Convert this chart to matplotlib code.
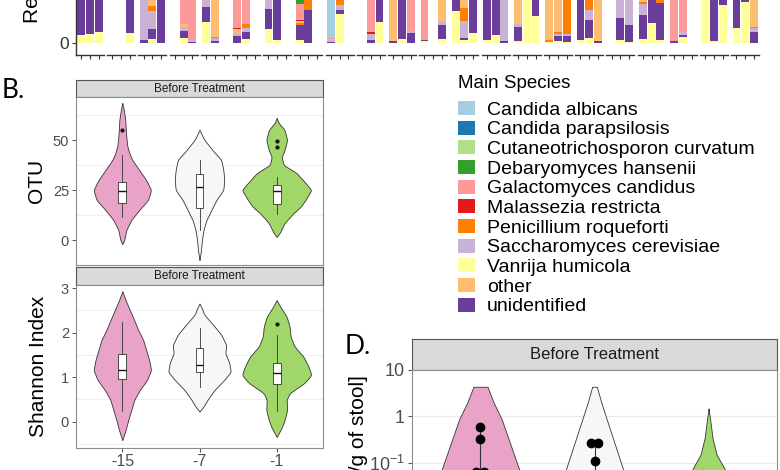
import numpy as np
import matplotlib.pyplot as plt
from matplotlib.patches import Patch

W, H = 780, 470
plt.rcParams['font.family'] = ['Liberation Sans', 'DejaVu Sans']
plt.rcParams['mathtext.fontset'] = 'custom'
plt.rcParams['mathtext.rm'] = 'Liberation Sans'

# ---- data: relative abundance, 22 patients x 3 time points (visible part only) ----
vanrija = [
    .08, .09, .11, 0, 0, .10, 0, .04, 0, 0, .05, 0, .21, 0, 0, 0, .04, 0,
    .14, .03, 0, .03, 0, 0, 0, .29, 0, 0, 0, .21, 0, .04, 0, .02, 0, .04,
    .32, .03, .10, .03, .08, 0, .02, 1.0, .27, .01, .02, .01, .03, .05, 0,
    0, .03, .01, .04, .20, .03, 0, .06, 0, 1.0, .02, .38, .15, .41, 0]
unidentified = [
    .92, .91, .89, 0, 0, .90, .03, .10, 1.0, 0, .07, .01, .15, .02, 0, .07, .07, 0,
    .20, .97, 0, .15, .33, 0, .01, .04, 0, 0, .03, .79, .02, .96, .10, .01, 0, .14,
    .68, .02, .90, .97, .92, .02, .14, 0, .73, 0, .05, .06, .97, .18, .02,
    0, .22, .17, .24, .80, .37, .02, .02, 0, 0, .98, .62, .85, .59, .11]
saccharomyces = [
    0, 0, 0, 0, 0, 0, .97, .18, 0, 0, .04, .02, .64, .03, 0, .03, .04, 0,
    .66, 0, 0, 0, 0, 0, .02, .05, 0, 0, .06, 0, 0, 0, .02, 0, 0, .03,
    0, .17, 0, 0, 0, .98, .03, 0, 0, 0, .02, .02, 0, .10, 0,
    0, .75, .82, .11, 0, 0, 0, .03, 0, 0, 0, 0, 0, 0, .04]
penicillium = [
    0, 0, 0, 0, 0, 0, 0, .05, 0, 0, 0, 0, 0, .01, 0, 0, .04, 0,
    0, 0, 0, .02, .67, 0, 0, .62, 0, 0, 0, 0, 0, 0, 0, 0, 0, 0,
    0, .13, 0, 0, 0, 0, 0, 0, 0, .02, .02, .91, 0, .67, 0,
    0, 0, 0, .02, 0, .60, 0, 0, 0, 0, 0, 0, 0, 0, .01]
other = [
    0, 0, 0, 0, 0, 0, 0, .63, 0, 0, .03, 0, 0, .94, 0, .04, 0, 0,
    0, 0, 0, .02, 0, 0, .01, 0, 0, 0, 0, 0, .98, 0, 0, 0, 0, .79,
    0, .65, 0, 0, 0, 0, .81, 0, 0, .97, .89, 0, 0, 0, .98,
    0, 0, 0, .59, 0, 0, 0, 0, 0, 0, 0, 0, 0, 0, .84]
malassezia = [
    0, 0, 0, 0, 0, 0, 0, 0, 0, 0, 0, 0, 0, 0, 0, .01, 0, 0,
    0, 0, 0, .01, 0, 0, 0, 0, 0, 0, .02, 0, 0, 0, 0, 0, 0, 0,
    0, 0, 0, 0, 0, 0, 0, 0, 0, 0, 0, 0, 0, 0, 0,
    0, 0, 0, 0, 0, 0, 0, 0, 0, 0, 0, 0, 0, 0, 0]
galactomyces = [
    0, 0, 0, 0, 0, 0, 0, 0, 0, 0, .81, .97, 0, 0, 0, .85, .81, 0,
    0, 0, 0, .16, 0, 0, .01, 0, 0, 0, .89, 0, 0, 0, .88, .97, 0, 0,
    0, 0, 0, 0, 0, 0, 0, 0, 0, 0, 0, 0, 0, 0, 0,
    0, 0, 0, 0, 0, 0, .98, .89, 0, 0, 0, 0, 0, 0, 0]
debaryomyces = [
    0, 0, 0, 0, 0, 0, 0, 0, 0, 0, 0, 0, 0, 0, 0, 0, 0, 0,
    0, 0, 0, .61, 0, 0, 0, 0, 0, 0, 0, 0, 0, 0, 0, 0, 0, 0,
    0, 0, 0, 0, 0, 0, 0, 0, 0, 0, 0, 0, 0, 0, 0,
    0, 0, 0, 0, 0, 0, 0, 0, 0, 0, 0, 0, 0, 0, 0]
c_albicans = [
    0, 0, 0, 0, 0, 0, 0, 0, 0, 0, 0, 0, 0, 0, 0, 0, 0, 0,
    0, 0, 0, 0, 0, 0, .95, 0, 0, 0, 0, 0, 0, 0, 0, 0, 0, 0,
    0, 0, 0, 0, 0, 0, 0, 0, 0, 0, 0, 0, 0, 0, 0,
    0, 0, 0, 0, 0, 0, 0, 0, 0, 0, 0, 0, 0, 0, 0]
zeros = [0] * 66

species = ["Candida albicans", "Candida parapsilosis", "Cutaneotrichosporon curvatum",
           "Debaryomyces hansenii", "Galactomyces candidus", "Malassezia restricta",
           "Penicillium roqueforti", "Saccharomyces cerevisiae", "Vanrija humicola",
           "other", "unidentified"]
colors = ["#A6CEE3", "#1F78B4", "#B2DF8A", "#33A02C", "#FB9A99", "#E31A1C",
          "#FF7F00", "#CAB2D6", "#FFFF99", "#FDBF6F", "#6A3D9A"]
abund = {"Candida albicans": c_albicans, "Candida parapsilosis": zeros,
         "Cutaneotrichosporon curvatum": zeros, "Debaryomyces hansenii": debaryomyces,
         "Galactomyces candidus": galactomyces, "Malassezia restricta": malassezia,
         "Penicillium roqueforti": penicillium, "Saccharomyces cerevisiae": saccharomyces,
         "Vanrija humicola": vanrija, "other": other, "unidentified": unidentified}
# bottom -> top
stack_order = ["Vanrija humicola", "unidentified", "Saccharomyces cerevisiae",
               "Penicillium roqueforti", "other", "Malassezia restricta",
               "Galactomyces candidus", "Debaryomyces hansenii",
               "Cutaneotrichosporon curvatum", "Candida parapsilosis", "Candida albicans"]
n_patients = 22

# ---- panel B: violin outlines (y, density) and box stats ----
days = ["-15", "-7", "-1"]
fills = ["#E9A3C9", "#F7F7F7", "#A1D76A"]

otu_y = [[-2, 0, 5, 10, 15, 20, 25, 30, 35, 40, 43.5, 47, 51.5, 55, 60, 65, 68.5],
         [-10, -5, 0, 5, 10, 15, 20, 25, 30, 35, 40, 45, 50, 55],
         [1.5, 3.5, 8.5, 13.5, 16.5, 20, 25, 28.5, 33.5, 37.5, 41.5, 45, 50, 55, 58.5, 61]]
otu_d = [[0, 2, 4, 9, 17, 26, 29, 24, 17, 10, 7, 5, 4, 3.5, 3, 1.5, 0],
         [0, 1.5, 2.5, 4, 7, 12, 17, 24, 25, 24, 22, 13, 5, 0],
         [0, 3, 8, 17, 24, 29, 35, 29, 20, 7, 5, 8, 10.5, 8, 2, 0]]
otu_box = [dict(whislo=11.7, q1=18.5, med=24.5, q3=29, whishi=42.5, fliers=[55]),
           dict(whislo=5, q1=16, med=26.5, q3=33, whishi=40, fliers=[]),
           dict(whislo=13, q1=18, med=24.5, q3=27.5, whishi=31.5, fliers=[46.5, 49.5])]

sh_y = [[-0.41, -0.19, 0.04, 0.26, 0.49, 0.71, 0.94, 1.16, 1.39, 1.61, 1.84, 2.06, 2.28, 2.51, 2.73, 2.93],
        [0.23, 0.34, 0.49, 0.71, 0.94, 1.12, 1.32, 1.54, 1.72, 1.95, 2.17, 2.40, 2.59, 2.65],
        [-0.34, -0.14, 0.04, 0.26, 0.49, 0.64, 0.87, 1.05, 1.24, 1.46, 1.69, 1.91, 2.14, 2.36, 2.55, 2.73]]
sh_d = [[0, 3.3, 6, 9, 12, 17.5, 25, 29, 27, 24, 21, 16, 12, 7.5, 3.3, 0],
        [0, 4, 8, 15, 25, 31.5, 30, 26, 27, 22, 14, 5, 1.5, 0],
        [0, 5, 8, 10.5, 10, 13, 28, 35, 32, 27, 18, 14, 13, 10, 4.5, 0]]
sh_box = [dict(whislo=0.23, q1=0.96, med=1.16, q3=1.52, whishi=2.25, fliers=[]),
          dict(whislo=0.78, q1=1.12, med=1.27, q3=1.65, whishi=2.1, fliers=[]),
          dict(whislo=0.23, q1=0.85, med=1.09, q3=1.32, whishi=1.95, fliers=[2.2])]

# ---- panel D: fungal load (log10 outline) and points ----
load_logy = [[-1.4, -1.12, -0.057, 0.30, 0.638],
             [-1.4, -1.12, -0.057, 0.30, 0.638],
             [-1.4, -1.12, -0.83, -0.48, -0.057, 0.17]]
load_d = [[43, 38, 21, 13, 7],
          [32, 28, 12, 6.7, 2.3],
          [22, 15.5, 8, 4, 1.5, 0]]
load_pts = [[0.583, 0.329, 0.064, 0.064, 0.02],
            [0.27, 0.27, 0.109, 0.03],
            []]

fig = plt.figure(figsize=(7.8, 4.7), dpi=100)


def box(x0, y0, x1, y1):
    return fig.add_axes([x0 / W, 1 - y1 / H, (x1 - x0) / W, (y1 - y0) / H])


def strip(x0, y0, x1, y1, size):
    s = box(x0, y0, x1, y1)
    s.set_facecolor("#D9D9D9")
    s.set_xticks([]); s.set_yticks([])
    for sp in s.spines.values():
        sp.set_color("#555555"); sp.set_linewidth(0.8)
    s.text(0.5, 0.5, "Before Treatment", ha="center", va="center",
           fontsize=size, color="#1A1A1A", transform=s.transAxes)


def smooth(v, k=9):
    ker = np.ones(k) / k
    pad = np.pad(v, k // 2, mode="edge")
    return np.convolve(pad, ker, mode="valid")


def violin(ax, xc, ys, ds, scale, color, log=False, sm=True):
    yy = np.linspace(ys[0], ys[-1], 300)
    ww = np.interp(yy, ys, ds)
    if sm:
        ww = smooth(ww)
        ww[0] = ds[0]; ww[-1] = ds[-1]
    ww = ww * scale
    if log:
        yy = 10 ** yy
    ax.fill_betweenx(yy, xc - ww, xc + ww, facecolor=color,
                     edgecolor="#333333", linewidth=0.6, zorder=2)


def panel_frame(ax):
    for sp in ax.spines.values():
        sp.set_color("#8C8C8C"); sp.set_linewidth(0.8)
    ax.tick_params(axis="both", colors="#333333", labelcolor="#4D4D4D",
                   length=3, width=0.6, pad=2)


# ---- top strip: stacked bars per patient ----
for p in range(n_patients):
    x0 = 76 + 31.2 * p
    ax = box(x0, -62, x0 + 28, 55)
    idx = slice(3 * p, 3 * p + 3)
    bottom = np.zeros(3)
    for name in stack_order:
        vals = np.array(abund[name][idx], dtype=float)
        ax.bar([1, 2, 3], vals, bottom=bottom, width=0.9,
               color=colors[species.index(name)], linewidth=0)
        bottom += vals
    ax.set_xlim(0.4, 3.6)
    ax.set_ylim(-0.12, 1.05)
    ax.set_xticks([1, 2, 3])
    ax.tick_params(axis="x", length=3, width=0.8, color="#333333", labelbottom=False)
    for s in ["top", "right"]:
        ax.spines[s].set_visible(False)
    ax.spines["bottom"].set_color("#333333")
    ax.spines["bottom"].set_linewidth(1.0)
    if p == 0:
        ax.set_yticks([0])
        ax.tick_params(axis="y", length=3, width=0.8, color="#333333",
                       labelsize=12.5, labelcolor="#333333", pad=2)
        ax.spines["left"].set_color("#333333")
        ax.spines["left"].set_linewidth(1.0)
    else:
        ax.spines["left"].set_visible(False)
        ax.set_yticks([])

fig.text(33 / W, 1 - 23 / H, "Relative abundance", rotation=90, ha="center",
         va="bottom", fontsize=15)

# ---- panel B ----
fig.text(2 / W, 1 - 91 / H, "B.", fontsize=19, family="Lato", va="center")
xs = [1, 2, 3]
scaleB = 0.45 / 35
box_kw = dict(positions=xs, widths=0.1, patch_artist=True, showcaps=False,
              boxprops=dict(facecolor="white", edgecolor="#333333", linewidth=0.6),
              whiskerprops=dict(color="#333333", linewidth=0.6),
              medianprops=dict(color="#111111", linewidth=1.0),
              flierprops=dict(marker="o", markersize=2, markerfacecolor="#111111",
                              markeredgecolor="#111111"), zorder=3)

strip(76, 80, 323, 97, 8.5)
axo = box(76, 97, 323, 265)
for i in range(3):
    violin(axo, xs[i], otu_y[i], otu_d[i], scaleB, fills[i])
axo.bxp(otu_box, **box_kw)
axo.set_xlim(0.4, 3.6)
axo.set_ylim(-12.5, 71.5)
axo.set_yticks([0, 25, 50])
axo.set_yticks([12.5, 37.5, 62.5], minor=True)
axo.grid(which="minor", axis="y", color="#EBEBEB", linewidth=0.6)
axo.set_xticks([])
panel_frame(axo)
axo.tick_params(axis="y", which="minor", length=0)
axo.tick_params(axis="y", labelsize=10.5)
axo.set_ylabel("OTU", fontsize=15, labelpad=5)

strip(76, 267, 323, 285, 8.5)
axs = box(76, 285, 323, 448)
for i in range(3):
    violin(axs, xs[i], sh_y[i], sh_d[i], scaleB, fills[i])
axs.bxp(sh_box, **box_kw)
axs.set_xlim(0.4, 3.6)
axs.set_ylim(-0.59, 3.07)
axs.set_yticks([0, 1, 2, 3])
axs.set_yticks([-0.5, 0.5, 1.5, 2.5], minor=True)
axs.grid(which="minor", axis="y", color="#EBEBEB", linewidth=0.6)
axs.set_xticks(xs)
axs.set_xticklabels(days)
panel_frame(axs)
axs.tick_params(axis="y", which="minor", length=0)
axs.tick_params(labelsize=10.5)
axs.tick_params(axis="x", labelsize=11.5, pad=1)
axs.set_ylabel("Shannon Index", fontsize=15, labelpad=9)

# ---- legend ----
fig.text(458 / W, 1 - 83 / H, "Main Species", fontsize=13.5, va="center")
handles = [Patch(facecolor=c, edgecolor="none") for c in colors]
fig.legend(handles, species, loc="upper left",
           bbox_to_anchor=(458 / W, 1 - 101 / H), frameon=False, fontsize=14,
           borderpad=0, borderaxespad=0, handlelength=0.88, handleheight=0.72,
           handletextpad=0.62, labelspacing=0.1)

# ---- panel D ----
fig.text(345 / W, 1 - 347 / H, "D.", fontsize=19, family="Lato", va="center")
strip(412, 339, 777, 370, 12)
axd = box(412, 370, 777, 560)
axd.set_yscale("log")
scaleD = 0.45 / 51
for i in range(3):
    violin(axd, xs[i], load_logy[i], load_d[i], scaleD, fills[i], log=True, sm=False)
    pts = load_pts[i]
    if pts:
        axd.vlines(xs[i], min(pts), max(pts), color="#333333", linewidth=0.8, zorder=3)
        for v in sorted(set(pts)):
            n = pts.count(v)
            offs = np.arange(n) - (n - 1) / 2
            axd.scatter(xs[i] + offs * 0.07, [v] * n, s=36, color="black", zorder=4)
axd.set_xlim(0.4, 3.6)
axd.set_ylim(10 ** -3.106, 10 ** 0.936)
axd.set_yticks([0.1, 1, 10])
axd.set_yticklabels([r"$\mathregular{10^{-1}}$", "1", "10"])
axd.minorticks_off()
axd.grid(axis="y", color="#EBEBEB", linewidth=0.8)
axd.set_xticks([])
panel_frame(axd)
axd.tick_params(axis="y", labelsize=13)
fig.text(358 / W, 1 - 375 / H, "Fungal load [CFU/g of stool]", rotation=90,
         ha="center", va="top", fontsize=15)

fig.savefig("out.png", dpi=100)
